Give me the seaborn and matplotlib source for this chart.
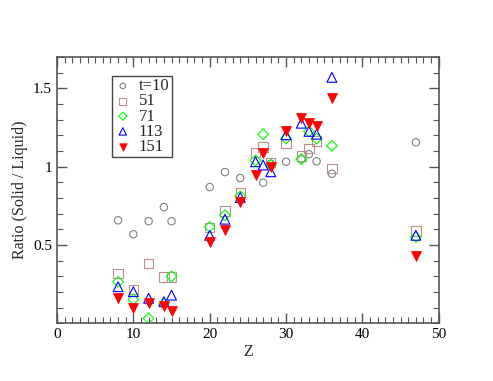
import numpy as np
import pandas as pd
import matplotlib
matplotlib.use("Agg")
import matplotlib.pyplot as plt
import seaborn as sns
from matplotlib.ticker import MultipleLocator, FixedLocator

# Values
z_t10 = [8, 10, 12, 14, 15, 20, 22, 24, 27, 28, 30, 32, 33, 34, 36, 47]
r_t10 = [0.658, 0.569, 0.652, 0.742, 0.652, 0.870, 0.966, 0.928, 0.898, 1.02, 1.032, 1.047, 1.08, 1.035, 0.955, 1.156]

z_t51 = [8, 10, 12, 14, 15, 20, 22, 24, 26, 27, 28, 30, 32, 33, 34, 36, 47]
r_t51 = [0.317, 0.216, 0.380, 0.295, 0.295, 0.613, 0.718, 0.835, 1.09, 1.126, 1.027, 1.150, 1.068, 1.117, 1.164, 0.990, 0.590]

z_t71 = [8, 10, 12, 14, 15, 20, 22, 24, 26, 27, 28, 30, 32, 33, 34, 36, 47]
r_t71 = [0.266, 0.153, 0.032, 0.124, 0.300, 0.615, 0.690, 0.812, 1.040, 1.208, 1.011, 1.180, 1.049, 1.226, 1.179, 1.134, 0.551]

z_t113 = [8, 10, 12, 14, 15, 20, 22, 24, 26, 27, 28, 30, 32, 33, 34, 36, 47]
r_t113 = [0.234, 0.202, 0.160, 0.138, 0.180, 0.562, 0.665, 0.804, 1.032, 1.011, 0.968, 1.204, 1.278, 1.226, 1.208, 1.571, 0.562]

z_t151 = [8, 10, 12, 14, 15, 20, 22, 24, 26, 27, 28, 30, 32, 33, 34, 36, 47]
r_t151 = [0.160, 0.096, 0.132, 0.111, 0.077, 0.519, 0.594, 0.772, 0.950, 1.090, 0.998, 1.226, 1.310, 1.282, 1.260, 1.442, 0.428]

sns.set_style("ticks")
plt.rcParams["font.family"] = ["Liberation Serif", "DejaVu Serif"]
plt.rcParams["font.size"] = 11

fig = plt.figure(figsize=(4.93, 3.81), dpi=100)
ax = fig.add_axes([0.1156, 0.1514, 0.7744, 0.6986])

series = [
    (z_t10, r_t10, "t=10", "o", "#808080", False, 28),
    (z_t51, r_t51, "51", "s", "#bc8f8f", False, 45),
    (z_t71, r_t71, "71", "D", "#00ff00", False, 30),
    (z_t113, r_t113, "113", "^", "#0000ff", False, 50),
    (z_t151, r_t151, "151", "v", "#ff0000", True, 50),
]

for z, r, lab, mk, col, filled, size in series:
    if filled:
        sns.scatterplot(x=z, y=r, ax=ax, marker=mk, s=size, facecolor=col,
                        edgecolor=col, linewidth=0.6, label=lab)
    else:
        sns.scatterplot(x=z, y=r, ax=ax, marker=mk, s=size, facecolor="none",
                        edgecolor=col, linewidth=0.8, label=lab)

ax.set_xlim(0, 50)
ax.set_ylim(0, 1.7)
ax.xaxis.set_major_locator(MultipleLocator(10))
ax.xaxis.set_minor_locator(MultipleLocator(1))
ax.yaxis.set_major_locator(FixedLocator([0.5, 1.0, 1.5]))
ax.set_yticklabels(["0.5", "1", "1.5"])
ax.yaxis.set_minor_locator(MultipleLocator(0.1))
ax.tick_params(which="both", direction="in", top=True, right=True,
               colors="#555555", labelcolor="black", labelsize=11)
ax.tick_params(which="major", length=7, width=1.0)
ax.tick_params(which="minor", length=4, width=0.8)
for sp in ax.spines.values():
    sp.set_color("#555555")
    sp.set_linewidth(1.2)

ax.set_xlabel("Z", fontsize=11.5, labelpad=2)
ax.set_ylabel("Ratio (Solid / Liquid)", fontsize=11.5)

leg = ax.legend(loc="upper left", bbox_to_anchor=(0.144, 0.93), frameon=True,
                fancybox=False, framealpha=1, edgecolor="#444444",
                fontsize=12, handletextpad=0.45, borderpad=0.15,
                labelspacing=-0.05, handlelength=1.0, borderaxespad=0,
                markerscale=0.75)
leg.get_frame().set_linewidth(1.0)

fig.savefig("out.png", dpi=100)
